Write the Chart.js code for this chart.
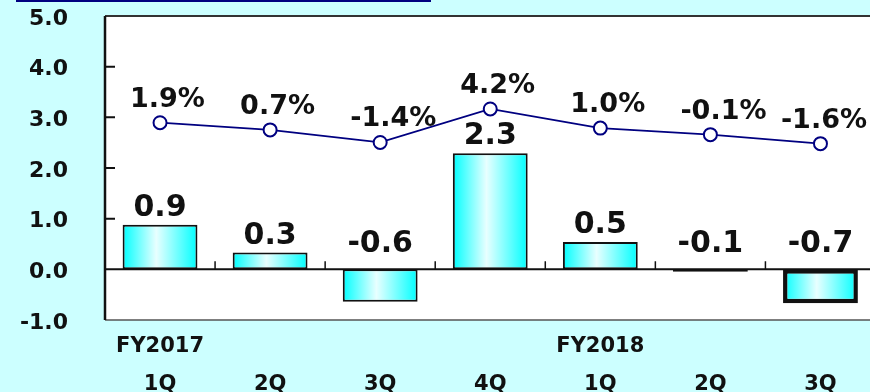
<!DOCTYPE html>
<html>
<head>
<meta charset="utf-8">
<script src="https://cdn.jsdelivr.net/npm/chart.js@4/dist/chart.umd.min.js"></script>
<style>
  html, body { margin: 0; padding: 0; background: #ccffff; overflow: hidden; }
  #wrap { position: relative; width: 870px; height: 392px; overflow: hidden; }
  #titleBar { position: absolute; left: 16px; top: 0; width: 415px; height: 2px; background: #000080; }
  #chart { position: absolute; left: 0; top: 0; }
</style>
</head>
<body>
<div id="wrap">
  <div id="titleBar"></div>
  <canvas id="chart" width="884" height="392"></canvas>
</div>
<script>
/* quarterly change (bars) and growth rate (line) */
const fiscalYears = ['FY2017', '', '', '', 'FY2018', '', ''];
const quarters = ['1Q', '2Q', '3Q', '4Q', '1Q', '2Q', '3Q'];
const barValues = [0.88, 0.33, -0.64, 2.29, 0.54, -0.05, -0.67];
const barLabels = ['0.9', '0.3', '-0.6', '2.3', '0.5', '-0.1', '-0.7'];
const growthRates = [1.9, 0.7, -1.4, 4.2, 1.0, -0.1, -1.6];
const yTicks = [-1, 0, 1, 2, 3, 4, 5];

const VIEW_W = 870;
const BAR_PCT = 0.68;
const FONT = '"DejaVu Sans", Verdana, sans-serif';

Chart.defaults.font.family = FONT;
Chart.defaults.color = '#111';

function barGradient(c) {
  const x = c.chart.scales.x;
  if (!x || c.type !== 'data') return '#00ffff';
  const cx = x.getPixelForValue(c.dataIndex);
  const half = x.width / barValues.length * BAR_PCT / 2;
  if (!isFinite(cx) || !isFinite(half) || half <= 0) return '#00ffff';
  const g = c.chart.ctx.createLinearGradient(cx - half, 0, cx + half, 0);
  g.addColorStop(0, '#00ffff');
  g.addColorStop(0.45, '#e8ffff');
  g.addColorStop(1, '#00ffff');
  return g;
}

// white plot area, axis frame, zero line and the small inner ticks
const framePlugin = {
  id: 'frame',
  beforeDraw(chart) {
    const { ctx, chartArea: a } = chart;
    ctx.save();
    ctx.fillStyle = '#fff';
    ctx.fillRect(a.left, a.top, a.width + 10, a.height);
    ctx.restore();
  },
  beforeDatasetsDraw(chart) {
    const { ctx, chartArea: a, scales: { x, y } } = chart;
    const y0 = y.getPixelForValue(0);
    ctx.save();
    ctx.strokeStyle = '#333';
    ctx.lineWidth = 2;
    ctx.beginPath();
    ctx.moveTo(a.left, a.top); ctx.lineTo(a.right + 10, a.top);
    ctx.stroke();
    ctx.strokeStyle = '#555';
    ctx.lineWidth = 1.5;
    ctx.beginPath();
    ctx.moveTo(a.left, a.bottom); ctx.lineTo(a.right + 10, a.bottom);
    ctx.stroke();

    ctx.strokeStyle = '#111';
    ctx.lineWidth = 2.5;
    ctx.beginPath();
    ctx.moveTo(a.left, a.top); ctx.lineTo(a.left, a.bottom);
    ctx.stroke();

    ctx.lineWidth = 2;
    ctx.beginPath();
    ctx.moveTo(a.left, y0); ctx.lineTo(a.right + 10, y0);
    [1, 2, 3, 4].forEach(v => {
      const ty = y.getPixelForValue(v);
      ctx.moveTo(a.left, ty); ctx.lineTo(a.left + 10, ty);
    });
    ctx.stroke();

    ctx.lineWidth = 1.5;
    ctx.beginPath();
    for (let i = 0; i < quarters.length; i++) {
      const bx = (x.getPixelForValue(i) + x.getPixelForValue(i + 1)) / 2;
      ctx.moveTo(bx, y0); ctx.lineTo(bx, y0 - 8);
    }
    ctx.stroke();
    ctx.restore();
  }
};

const labelPlugin = {
  id: 'valueLabels',
  afterDatasetsDraw(chart) {
    const { ctx, scales: { y } } = chart;
    const y0 = y.getPixelForValue(0);
    ctx.save();
    ctx.fillStyle = '#111';
    ctx.textBaseline = 'alphabetic';

    ctx.font = 'bold 30px ' + FONT;
    ctx.textAlign = 'center';
    chart.getDatasetMeta(1).data.forEach((el, i) => {
      const ty = barValues[i] >= 0 ? el.y - 9 : y0 - 17;
      ctx.fillText(barLabels[i], el.x, ty);
    });

    ctx.font = 'bold 27px ' + FONT;
    ctx.textAlign = 'left';
    chart.getDatasetMeta(0).data.forEach((pt, i) => {
      const txt = growthRates[i].toFixed(1) + '%';
      const w = ctx.measureText(txt).width;
      const tx = Math.min(pt.x - 30, VIEW_W - 3 - w);
      ctx.fillText(txt, tx, pt.y - 16);
    });
    ctx.restore();
  }
};

new Chart(document.getElementById('chart'), {
  data: {
    labels: quarters.map((q, i) => [fiscalYears[i], q]),
    datasets: [
      {
        type: 'line',
        order: 0,
        data: growthRates,
        yAxisID: 'y2',
        borderColor: '#000080',
        borderWidth: 1.8,
        pointRadius: 6.5,
        pointBorderWidth: 2,
        pointBackgroundColor: '#fff',
        pointBorderColor: '#000080',
        tension: 0
      },
      {
        type: 'bar',
        order: 1,
        data: barValues,
        yAxisID: 'y',
        backgroundColor: barGradient,
        borderColor: '#111',
        borderWidth: c => (c.dataIndex === barValues.length - 1 ? 4.5 : 2),
        borderSkipped: false,
        categoryPercentage: 1,
        barPercentage: BAR_PCT
      }
    ]
  },
  options: {
    responsive: false,
    animation: false,
    devicePixelRatio: 1,
    layout: { padding: { top: 16, right: 5, left: 0, bottom: 0 } },
    plugins: { legend: { display: false }, tooltip: { enabled: false } },
    scales: {
      x: {
        offset: true,
        grid: { display: false, drawTicks: false },
        border: { display: false },
        ticks: {
          padding: 8,
          maxRotation: 0,
          autoSkip: false,
          color: '#111',
          font: { size: 21, weight: 'bold', lineHeight: 38 / 21 }
        },
        afterFit: s => { s.height = 72; }
      },
      y: {
        min: -1,
        max: 5,
        afterBuildTicks: s => { s.ticks = yTicks.map(v => ({ value: v })); },
        grid: { display: false, drawTicks: true, tickLength: 37 },
        border: { display: false },
        ticks: {
          padding: 0,
          labelOffset: 3,
          color: '#111',
          font: { size: 22, weight: 'bold' },
          callback: v => v.toFixed(1)
        },
        afterFit: s => { s.width = 105; }
      },
      y2: {
        display: false,
        min: -31.1,
        max: 19.75
      }
    }
  },
  plugins: [framePlugin, labelPlugin]
});
</script>
</body>
</html>
